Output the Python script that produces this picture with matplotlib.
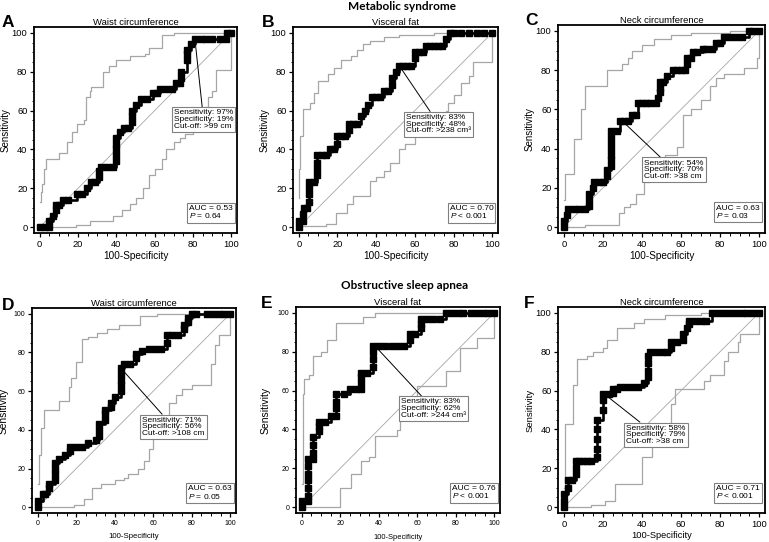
import matplotlib
matplotlib.use("Agg")
import matplotlib.pyplot as plt
from matplotlib.ticker import MultipleLocator

plt.rcParams['font.family'] = ['Liberation Sans', 'DejaVu Sans']
plt.rcParams['mathtext.fontset'] = 'custom'
plt.rcParams['mathtext.it'] = 'Liberation Sans:italic'
plt.rcParams['mathtext.rm'] = 'Liberation Sans'

# ---- data (x = 100-Specificity, y = Sensitivity) ----
diag = [0, 100]

# A - metabolic syndrome, waist circumference
roc_a = [(0, 0), (2.5, 0), (5, 0), (5, 3), (7, 6), (8.5, 9), (8.5, 11.5), (10, 11.5), (12, 14), (15, 14),
         (19.5, 17), (22, 17), (24.5, 20), (27, 23), (29, 23), (31, 26), (31, 29), (32, 31), (35, 31), (38, 31),
         (40, 34), (40, 37), (40, 40), (40, 43), (40, 46), (42, 49), (44, 51), (46, 51), (48, 54), (48, 57),
         (48, 60), (50, 63), (53, 66), (56, 66), (59, 69), (61, 69), (63, 71), (66, 71), (69, 71), (71, 74),
         (73, 74), (74, 77), (74, 80), (77, 86), (77, 89), (77, 91), (79, 94), (81, 97), (84, 97), (87, 97),
         (90, 97), (94, 97), (97, 97), (98, 100), (100, 100)]
up_a = [(0, 13), (0.5, 18), (1, 22), (2, 30), (3.5, 35), (10, 38), (14, 44), (17, 49), (19.5, 53), (23, 55),
        (24, 67), (26, 70), (27, 72), (33, 80), (36, 83), (40, 86), (47, 88), (55, 89), (57, 92), (64, 99),
        (70, 100), (100, 100)]
lo_a = [(0, 0), (19, 1), (26, 3), (38, 6), (43, 9), (47, 12), (50, 15), (54, 20), (57, 27), (60, 30),
        (64, 35), (66, 40), (70, 44), (73, 46), (76, 48), (80, 52), (83, 56), (86, 62), (88, 67), (90, 70),
        (92, 81), (100, 100)]

# B - metabolic syndrome, visceral fat
roc_b = [(0, 0), (0, 3), (2, 3), (2, 7), (2.5, 10), (4, 10), (5.5, 13), (5.5, 17), (5.5, 20), (5.5, 23),
         (8, 23), (9.6, 27), (9.6, 30), (9.6, 33), (9.6, 37), (12, 37), (14, 37), (16, 40), (18, 40), (20, 43),
         (20, 47), (22, 47), (24, 47), (26, 50), (26, 53), (28, 53), (30, 53), (32, 57), (34, 60), (36, 63),
         (38, 67), (40, 67), (42, 67), (44, 70), (46, 70), (48, 73), (48, 77), (50, 80), (52, 83), (54, 83),
         (56, 83), (58, 83), (60, 87), (60, 90), (62, 90), (64, 90), (66, 93), (68, 93), (70, 93), (72, 93),
         (74, 93), (76, 97), (78, 100), (80, 100), (84, 100), (88, 100), (92, 100), (96, 100), (100, 100)]
up_b = [(0, 15), (0.3, 30), (0.8, 47), (2, 61), (5, 61), (6, 64), (8, 69), (10, 75), (15, 79), (18, 82),
        (22, 86), (27, 88), (30, 91), (33, 94), (37, 96), (44, 98), (52, 99), (70, 100), (100, 100)]
lo_b = [(0, 0.5), (14, 1.5), (19, 7.5), (25, 12), (28, 16), (37, 24), (40, 26), (44, 29), (47, 33), (52, 40),
        (55, 43), (60, 47), (63, 52), (68, 55), (76, 60), (77, 64), (80, 68), (84, 74), (88, 78), (90, 85),
        (100, 100)]

# C - metabolic syndrome, neck circumference
roc_c = [(0, 0), (0, 3), (1.5, 6), (2, 9), (5, 9), (8, 9), (11, 9), (13, 11), (13, 14), (13, 17),
         (15, 20), (15.5, 23), (18, 23), (20, 23), (22, 26), (22, 29), (24, 31), (24, 34), (24, 37), (24, 40),
         (24, 43), (24, 46), (24, 49), (27, 49), (29, 54), (31, 54), (33, 54), (35, 57), (37, 57), (38, 63),
         (40, 63), (42, 63), (44, 63), (47, 63), (48, 66), (49, 69), (49, 71), (49, 74), (51, 74), (53, 77),
         (56, 80), (58, 80), (60, 80), (62, 80), (63, 83), (63, 86), (65, 86), (66, 89), (68, 89), (71, 91),
         (73, 91), (76, 91), (78, 94), (80, 94), (82, 97), (85, 97), (88, 97), (91, 97), (95, 100), (97, 100),
         (100, 100)]
up_c = [(0, 14), (0.5, 27), (5, 45), (9, 60), (11, 72), (22, 80), (30, 83), (33, 86), (35, 90), (40, 93),
        (46, 96), (55, 98), (65, 99), (85, 100), (100, 100)]
lo_c = [(0, 0), (11, 1), (28, 7), (31, 10), (34, 12), (37, 17), (41, 23), (44, 26), (48, 33), (52, 37),
        (58, 41), (61, 57), (65, 60), (70, 65), (75, 72), (78, 76), (82, 78), (92, 81), (99, 86), (100, 100)]

# D - obstructive sleep apnea, waist circumference
roc_d = [(0, 0), (0, 3), (2.5, 7), (4, 7), (6, 10), (6, 12), (9, 14), (9, 17), (9, 20), (9, 23),
         (11, 25), (14, 27), (17, 29), (17, 31), (20, 31), (23, 31), (26, 33), (30, 35), (32, 37), (32, 40),
         (32, 43), (35, 45), (35, 48), (35, 50), (38, 52), (38, 54), (40, 57), (43, 60), (43, 63), (43, 66),
         (43, 69), (43, 72), (45, 74), (48, 74), (51, 77), (51, 79), (54, 81), (58, 82), (61, 82), (64, 82),
         (67, 85), (67, 89), (70, 89), (73, 89), (76, 92), (76, 94), (78, 96), (78, 98), (80, 100), (82, 100),
         (88, 100), (91, 100), (94, 100), (97, 100), (100, 100)]
up_d = [(0, 12), (0.8, 27), (1.5, 41), (3, 50), (11, 55), (16, 62), (17.5, 67), (20, 75), (23, 87), (26, 88),
        (31, 90), (36, 92), (42, 94), (53, 99), (62, 100), (100, 100)]
lo_d = [(0, 0), (19, 1), (24, 4), (28, 10), (33, 12), (40, 14), (45, 15), (47, 17), (52, 20), (55, 24),
        (58, 30), (60, 37), (62, 42), (64, 47), (68, 54), (72, 58), (75, 61), (80, 63), (90, 74), (92, 84),
        (94, 89), (100, 100)]

# E - obstructive sleep apnea, visceral fat
roc_e = [(0, 0), (0, 3), (3, 3), (3, 6), (3, 10), (3, 14), (3, 17), (3, 21), (3, 25), (6, 25),
         (6, 28), (6, 32), (6, 36), (9, 39), (9, 42), (9, 44), (12, 44), (15, 47), (18, 47), (18, 51),
         (18, 54), (18, 58), (22, 58), (25, 61), (28, 61), (31, 61), (31, 64), (31, 67), (31, 69), (34, 69),
         (37, 72), (37, 76), (37, 80), (37, 83), (40, 83), (43, 83), (47, 83), (50, 83), (53, 83), (56, 86),
         (56, 89), (59, 89), (62, 92), (62, 94), (62, 97), (65, 97), (68, 97), (72, 97), (75, 100), (78, 100),
         (81, 100), (84, 100), (88, 100), (91, 100), (94, 100), (97, 100), (100, 100)]
up_e = [(0, 12), (0.5, 58), (1, 66), (4, 68), (6, 78), (10, 80), (13, 86), (18, 95), (32, 98), (38, 100),
        (100, 100)]
lo_e = [(0, 0), (20, 10), (25.5, 17), (31, 24), (35, 26), (38, 36.5), (49.5, 39.5), (51, 46), (55, 53),
        (60, 62.5), (75, 70), (82, 82), (91, 87), (100, 100)]

# F - obstructive sleep apnea, neck circumference
roc_f = [(0, 0), (0, 3), (0, 7), (2, 10), (2, 14), (4, 14), (6, 17), (6, 20), (6, 24), (8, 24),
         (10, 24), (12, 24), (14, 24), (17, 26), (17, 30), (17, 35), (17, 40), (17, 45), (20, 50), (20, 55),
         (20, 58), (23, 58), (25, 59), (25, 61), (27, 61), (29, 62), (32, 62), (35, 62), (38, 62), (41, 64),
         (43, 67), (43, 70), (43, 74), (43, 78), (44, 80), (47, 80), (50, 80), (53, 80), (55, 82), (55, 85),
         (58, 85), (61, 86), (61, 89), (63, 92), (64, 94), (64, 96), (67, 96), (70, 96), (73, 96), (76, 100),
         (79, 100), (82, 100), (85, 100), (88, 100), (91, 100), (94, 100), (97, 100), (100, 100)]
up_f = [(0, 10), (0.5, 43), (4.5, 63), (6.5, 76), (12, 78), (15, 80), (20, 82), (22, 86), (27, 92), (36, 95),
        (41, 97), (52, 99), (70, 100), (100, 100)]
lo_f = [(0, 0), (14, 1), (21, 3), (26, 12), (40, 26), (45, 40), (55, 53), (57, 61), (72, 65), (75, 68),
        (82, 75), (84, 80), (89, 85), (90, 89), (100, 100)]

letters = ['A', 'B', 'C', 'D', 'E', 'F']
titles = ['Waist circumference', 'Visceral fat', 'Neck circumference',
          'Waist circumference', 'Visceral fat', 'Neck circumference']
sens = [97, 83, 54, 71, 83, 58]
spec = [19, 48, 70, 56, 62, 79]
cutoffs = ['>99 cm', '>238 cm\u00b3', '>38 cm', '>108 cm', '>244 cm\u00b3', '>38 cm']
aucs = ['0.53', '0.70', '0.63', '0.63', '0.76', '0.71']
pvals = ['= 0.64', '< 0.001', '= 0.03', '= 0.05', '< 0.001', '< 0.001']
rocs = [roc_a, roc_b, roc_c, roc_d, roc_e, roc_f]
uppers = [up_a, up_b, up_c, up_d, up_e, up_f]
lowers = [lo_a, lo_b, lo_c, lo_d, lo_e, lo_f]

# layout (pixels: left, top, right, bottom) and text placement
W, H = 769, 542
boxes_px = [(34, 27, 237, 233), (293, 27, 498, 233), (558, 25, 765, 233),
            (32, 308, 236, 513), (296, 307, 500, 513), (558, 307, 765, 513)]
note_pos = [(70, 55.3), (55.5, 53), (41, 29.2), (54.3, 41.5), (51.4, 50.7), (32, 37.2)]
tick_fs = [6.7, 6.7, 6.7, 5, 5, 6.7]
xlab_fs = [7.2, 7.2, 7.2, 5.6, 5.4, 6.7]
ylab_fs = [7, 7, 7, 7.4, 7.5, 6.8]
ylab_pad = [1, 1, 1, 3.5, 5, 0.5]
xlab_pad = [1.5, 1.5, 1.5, 5, 5.5, 1.5]
letter_px = [(2, 27), (262, 27), (525, 25), (2, 310), (261, 308), (524, 308)]

fig = plt.figure(figsize=(W / 100, H / 100), dpi=100)
grey = '#a6a6a6'

for i in range(6):
    l, t, r, b = boxes_px[i]
    ax = fig.add_axes([l / W, 1 - b / H, (r - l) / W, (b - t) / H])

    ax.plot(diag, diag, color=grey, lw=0.6)
    for band in (uppers[i], lowers[i]):
        bx, by = zip(*band)
        ax.plot(bx, by, color=grey, lw=0.9, drawstyle='steps-post')
    rx, ry = zip(*rocs[i])
    ax.plot(rx, ry, color='black', lw=1.9, drawstyle='steps-post',
            marker='s', ms=3.8, mec='black', mfc='black', clip_on=False, zorder=3)

    txt = 'Sensitivity: %d%%\nSpecificity: %d%%\nCut-off: %s' % (sens[i], spec[i], cutoffs[i])
    ax.annotate(txt, xy=(100 - spec[i], sens[i]), xytext=note_pos[i],
                ha='left', va='center', fontsize=6, linespacing=0.95,
                bbox=dict(boxstyle='square,pad=0.25', fc='white', ec='#808080', lw=0.8),
                arrowprops=dict(arrowstyle='-', color='black', lw=0.7, shrinkA=0, shrinkB=0),
                zorder=4)
    ax.text(78, 7.5, 'AUC = %s\n$P$ %s' % (aucs[i], pvals[i]), ha='left', va='center',
            fontsize=6, linespacing=0.95,
            bbox=dict(boxstyle='square,pad=0.25', fc='white', ec='#808080', lw=0.8), zorder=4)

    ax.set_xlim(-3, 103)
    ax.set_ylim(-3, 103)
    ax.xaxis.set_major_locator(MultipleLocator(20))
    ax.yaxis.set_major_locator(MultipleLocator(20))
    ax.xaxis.set_minor_locator(MultipleLocator(5))
    ax.yaxis.set_minor_locator(MultipleLocator(5))
    ax.tick_params(which='major', length=3.2, width=0.9, pad=1.5, labelsize=tick_fs[i])
    ax.tick_params(which='minor', length=1.8, width=0.7)
    for s in ax.spines.values():
        s.set_linewidth(1.3)
    ax.set_xlabel('100-Specificity', fontsize=xlab_fs[i], labelpad=xlab_pad[i])
    ax.set_ylabel('Sensitivity', fontsize=ylab_fs[i], labelpad=ylab_pad[i])
    ax.set_title(titles[i], fontsize=6.8, pad=1.5)

    lx, ly = letter_px[i]
    fig.text(lx / W, 1 - ly / H, letters[i], fontsize=12.5, fontweight='bold',
             ha='left', va='baseline')

fig.text(402 / W, 1 - 9.5 / H, 'Metabolic syndrome', fontsize=8.5, fontweight='bold',
         family=['Lato', 'DejaVu Sans'], ha='center', va='baseline')
fig.text(405 / W, 1 - 289 / H, 'Obstructive sleep apnea', fontsize=8.5, fontweight='bold',
         family=['Lato', 'DejaVu Sans'], ha='center', va='baseline')

plt.savefig('out.png', dpi=100)
